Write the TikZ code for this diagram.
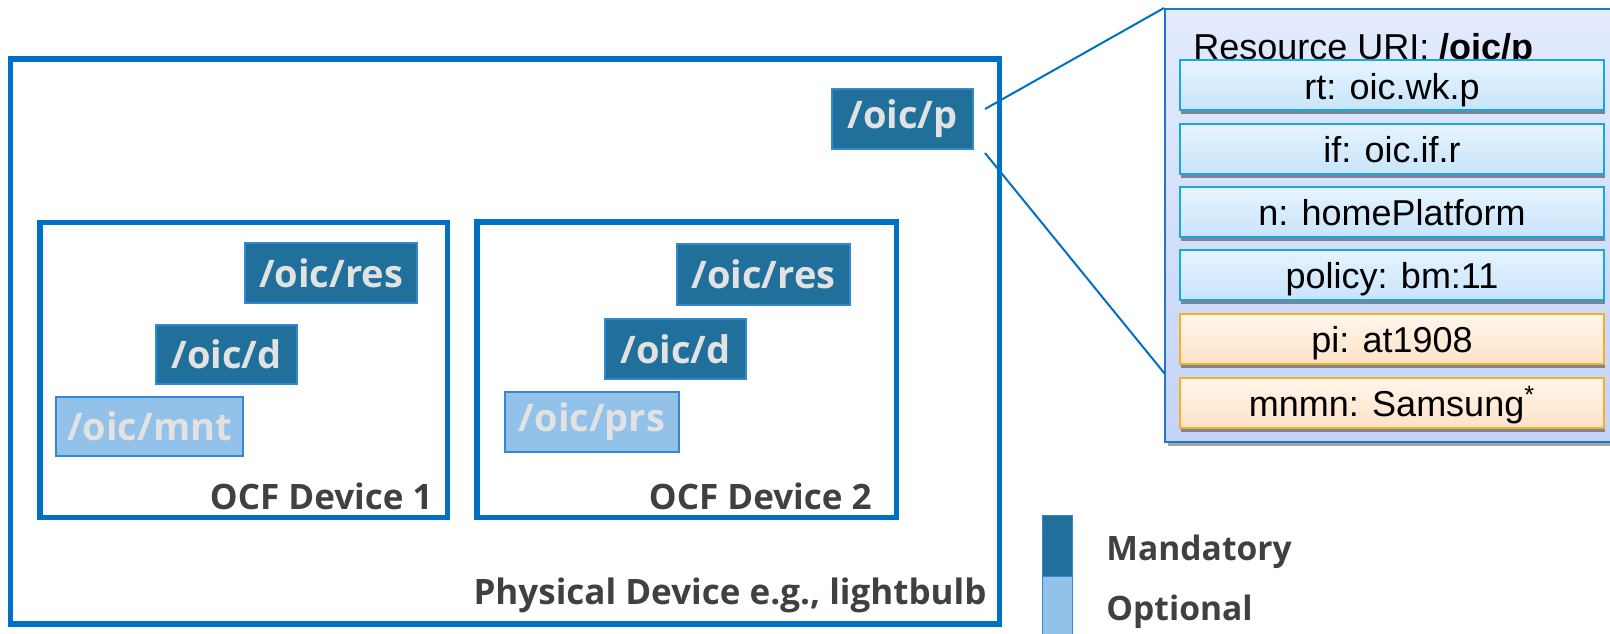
\documentclass[tikz,border=0pt]{standalone}
\usepackage{fontspec}
\setmainfont{Liberation Sans}
\newfontfamily\labelfont{Open Sans}
\usetikzlibrary{shadows}

\definecolor{ocfblue}{RGB}{0,112,196}
\definecolor{mandfill}{RGB}{32,112,155}
\definecolor{optfill}{RGB}{146,193,233}
\definecolor{resedge}{RGB}{52,136,210}
\definecolor{restext}{RGB}{226,226,226}
\definecolor{labelgrey}{RGB}{64,64,64}
\definecolor{paneledge}{RGB}{36,116,200}
\definecolor{paneltop}{RGB}{227,235,252}
\definecolor{panelbottom}{RGB}{196,212,249}
\definecolor{rowblue}{RGB}{26,167,225}
\definecolor{rowbluetop}{RGB}{231,244,255}
\definecolor{rowbluebottom}{RGB}{200,228,251}
\definecolor{roworange}{RGB}{246,176,40}
\definecolor{roworangetop}{RGB}{255,246,236}
\definecolor{roworangebottom}{RGB}{253,226,200}
\definecolor{rowshadow}{RGB}{125,133,147}

\begin{document}
\begin{tikzpicture}[x=0.5pt,y=-0.5pt,
  rsrc/.style={draw=resedge, line width=0.6pt, inner sep=0pt,
    font=\labelfont\bfseries\fontsize{19}{22}\selectfont, text=restext},
  mand/.style={rsrc, fill=mandfill},
  opt/.style={rsrc, fill=optfill},
  devbox/.style={draw=ocfblue, line width=2.8pt, inner sep=0pt},
  devlabel/.style={font=\labelfont\bfseries\fontsize{17.5}{20}\selectfont,
    text=labelgrey, inner sep=0pt},
  legendlabel/.style={devlabel, font=\labelfont\bfseries\fontsize{16.8}{20}\selectfont},
  link/.style={draw=ocfblue, line width=1pt},
  proprow/.style={line width=1pt, minimum width=212pt, minimum height=25pt,
    inner sep=0pt, text height=14pt, text depth=0pt,
    font=\fontsize{18}{21}\selectfont,
    drop shadow={shadow xshift=0.5pt, shadow yshift=-2.2pt,
      fill=rowshadow, opacity=1}},
  bluerow/.style={proprow, draw=rowblue, top color=rowbluetop,
    bottom color=rowbluebottom},
  orangerow/.style={proprow, draw=roworange, top color=roworangetop,
    bottom color=roworangebottom},
  legendbar/.style={draw=resedge, line width=0.4pt, minimum width=15pt,
    inner sep=0pt}
]
\useasboundingbox (0,0) rectangle (1610,633);

% physical device and the two OCF devices it hosts
\node[devbox, minimum width=494.5pt, minimum height=282.5pt] (phys) at (505,341.5) {};
\node[devbox, minimum width=203.75pt, minimum height=147.5pt] (dev1) at (243.75,370) {};
\node[devbox, minimum width=209.75pt, minimum height=147.75pt] (dev2) at (686.75,369.75) {};

% resources
\node[mand, minimum width=70.5pt, minimum height=30pt] (p) at (902.5,119) {/oic/p};
\node[mand, minimum width=86pt, minimum height=30pt] (res1) at (331,273) {/oic/res};
\node[mand, minimum width=70.5pt, minimum height=29.5pt] (d1) at (226.5,354.5) {/oic/d};
\node[opt, minimum width=93.5pt, minimum height=29.5pt] (mnt) at (149.5,426.5) {/oic/mnt};
\node[mand, minimum width=86.5pt, minimum height=30.5pt] (res2) at (763.5,274.5) {/oic/res};
\node[mand, minimum width=70.5pt, minimum height=30pt] (d2) at (675.5,349) {/oic/d};
\node[opt, minimum width=87pt, minimum height=30pt] (prs) at (592,422) {/oic/prs};

% box captions
\node[devlabel, anchor=base east] (cap1) at (433,509) {OCF Device 1};
\node[devlabel, anchor=base east] (cap2) at (872,509) {OCF Device 2};
\node[devlabel, anchor=base east] (capphys) at (987,604) {Physical Device e.g., lightbulb};

% detail panel for /oic/p
\node[draw=paneledge, line width=1pt, top color=paneltop, bottom color=panelbottom,
  minimum width=227.5pt, minimum height=216.5pt, inner sep=0pt,
  drop shadow={shadow xshift=1.5pt, shadow yshift=-2pt, fill=gray!70, opacity=1}]
  (panel) at (1392.5,225.5) {};
\node[anchor=base west, inner sep=0pt, font=\fontsize{18}{21}\selectfont]
  (uri) at (1193,59) {Resource URI: \textbf{/oic/p}};

\node[bluerow] (rt) at (1392,85) {rt: oic.wk.p};
\node[bluerow] (if) at (1392,148.5) {if: oic.if.r};
\node[bluerow] (n) at (1392,211.5) {n: homePlatform};
\node[bluerow] (policy) at (1392,274.5) {policy: bm:11};
\node[orangerow] (pi) at (1392,338.5) {pi: at1908};
\node[orangerow] (mnmn) at (1392,402.5) {mnmn: Samsung\textsuperscript{*}};

% callout lines from /oic/p to the panel
\coordinate (pup) at (985,109);
\coordinate (pdown) at (985,153);
\coordinate (panelmid) at (1165,374);
\draw[link] (pup) -- (panel.north west);
\draw[link] (pdown) -- (panelmid);

% legend
\node[legendbar, fill=mandfill, minimum height=30.5pt] (legm) at (1057,545.5) {};
\node[legendbar, fill=optfill, minimum height=30pt] (lego) at (1057,606) {};
\node[legendlabel, anchor=base west] (legmt) at (1106,560) {Mandatory};
\node[legendlabel, anchor=base west] (legot) at (1106,620) {Optional};
\end{tikzpicture}
\end{document}
